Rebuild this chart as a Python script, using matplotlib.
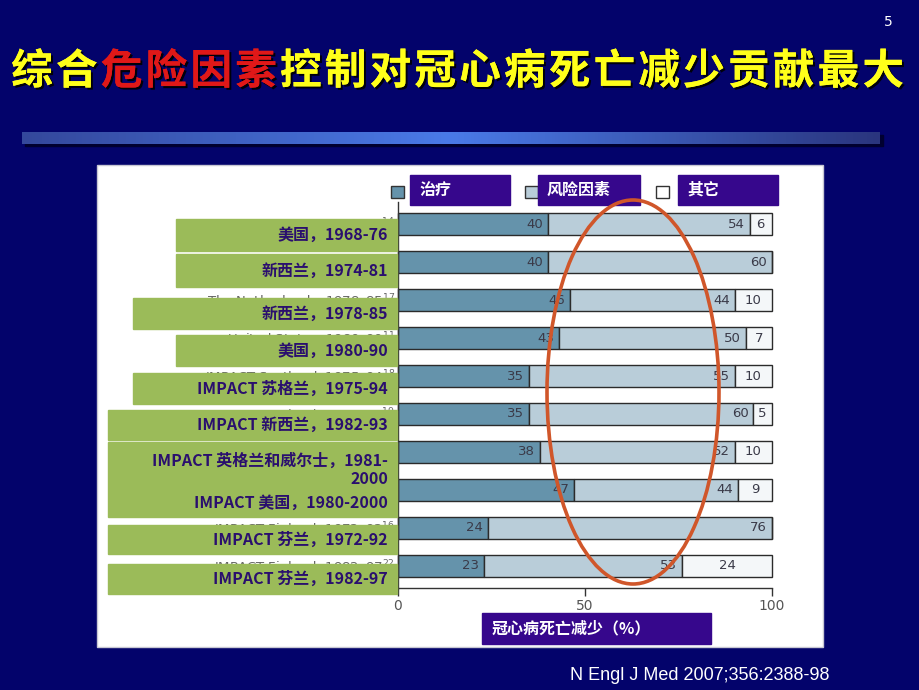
import numpy as np
import matplotlib
matplotlib.use('Agg')
import matplotlib.pyplot as plt
from matplotlib.patches import Rectangle, Ellipse
from matplotlib.colors import LinearSegmentedColormap
import matplotlib.patheffects as pe

plt.rcParams['font.family'] = ['Noto Sans CJK SC', 'DejaVu Sans']

# ---- data ----
title_parts = [('综合', '#ffff1a'), ('危险因素', '#e01818'),
               ('控制对冠心病死亡减少贡献最大', '#ffff1a')]
labels_cn = ['美国，1968-76', '新西兰，1974-81', '新西兰，1978-85', '美国，1980-90',
             'IMPACT 苏格兰，1975-94', 'IMPACT 新西兰，1982-93',
             'IMPACT 英格兰和威尔士，1981-\n2000', 'IMPACT 美国，1980-2000',
             'IMPACT 芬兰，1972-92', 'IMPACT 芬兰，1982-97']
# original English labels, mostly covered by the green boxes
labels_en = ['United States, 1968–76$^{14}$', '',
             'The Netherlands, 1978–85$^{17}$', 'United States, 1980–90$^{11}$',
             'IMPACT Scotland, 1975–94$^{18}$', 'IMPACT New Zealand, 1982–93$^{19}$',
             'IMPACT England and Wales, 1981–2000$^{20}$', '',
             'IMPACT Finland, 1972–92$^{16}$', 'IMPACT Finland, 1982–97$^{22}$']
treatment = [40, 40, 46, 43, 35, 35, 38, 47, 24, 23]
risk = [54, 60, 44, 50, 55, 60, 52, 44, 76, 53]
other = [6, 0, 10, 7, 10, 5, 10, 9, 0, 24]
xticks = [0, 50, 100]
legend_names = ['治疗', '风险因素', '其它']
xlabel = '冠心病死亡减少（%）'
source = 'N Engl J Med 2007;356:2388-98'

c_treat, c_risk, c_other = '#6593ab', '#b9cdd9', '#f4f7f9'
navy = '#03036b'
purple = '#36078c'
green = '#9bbb59'

fig = plt.figure(figsize=(9.2, 6.9), dpi=100)
fig.patch.set_facecolor(navy)

# background layer in pixel coordinates
bg = fig.add_axes([0, 0, 1, 1], zorder=0)
bg.set_facecolor(navy)
cmap = LinearSegmentedColormap.from_list('g', ['#34489c', '#4a7ae8', '#2a357e'])
bg.add_patch(Rectangle((25, 135), 858, 11, color='#000030', zorder=1))
bg.imshow(np.linspace(0, 1, 256)[None, :], cmap=cmap, aspect='auto',
          extent=[22, 880, 144, 132], zorder=2)
bg.add_patch(Rectangle((97, 165), 726, 482, facecolor='white',
                       edgecolor='#c8c8d4', lw=1, zorder=2))

# title, one character at a time
chars = [(ch, col) for part, col in title_parts for ch in part]
for i, (ch, col) in enumerate(chars):
    bg.text(32 + 44.8 * i, 72, ch, color=col, fontsize=30, fontweight='black',
            ha='center', va='center', zorder=3,
            path_effects=[pe.withSimplePatchShadow(offset=(1.5, -1.5),
                                                   shadow_rgbFace='black', alpha=0.9),
                          pe.Normal()])
bg.text(888, 22, '5', color='white', fontsize=10, ha='center', va='center',
        family='DejaVu Sans')
bg.text(830, 676, source, color='white', fontsize=13, ha='right', va='center',
        family='Liberation Sans')
bg.set_xlim(0, 920)
bg.set_ylim(690, 0)
bg.axis('off')

# bar chart
ax = fig.add_axes([398 / 920, 102 / 690, 374 / 920, 386 / 690], zorder=1)
ax.patch.set_alpha(0)
y = np.arange(len(treatment))
t = np.array(treatment)
r = np.array(risk)
o = np.array(other)
kw = dict(height=0.58, edgecolor='#2b2b2b', linewidth=1, clip_on=False)
ax.barh(y, t, color=c_treat, **kw)
ax.barh(y, r, left=t, color=c_risk, **kw)
ax.barh(y, o, left=t + r, color=c_other, **kw)
tk = dict(fontsize=9.5, color='#3a3a48', va='center', family='DejaVu Sans')
for i in range(len(y)):
    ax.text(t[i] - 1.3, y[i], str(t[i]), ha='right', **tk)
    ax.text(t[i] + r[i] - 1.3, y[i], str(r[i]), ha='right', **tk)
    if o[i] > 0:
        ax.text(t[i] + r[i] + o[i] / 2, y[i], str(o[i]), ha='center', **tk)
ax.set_xlim(0, 100)
ax.set_ylim(9.58, -0.58)
ax.set_yticks([])
ax.set_xticks(xticks)
ax.tick_params(axis='x', length=6, width=1, color='#333333', labelsize=10,
               labelcolor='#555555', pad=2)
for lbl in ax.get_xticklabels():
    lbl.set_fontfamily('DejaVu Sans')
for s in ['top', 'right']:
    ax.spines[s].set_visible(False)
for s in ['left', 'bottom']:
    ax.spines[s].set_color('#333333')
    ax.spines[s].set_linewidth(1)

# overlay: old labels, green boxes, legend, circle
ov = fig.add_axes([0, 0, 1, 1], zorder=2)
ov.patch.set_alpha(0)
ov.set_xlim(0, 920)
ov.set_ylim(690, 0)
ov.axis('off')

row_y = [224 + 38 * i for i in range(10)]
for i, txt in enumerate(labels_en):
    if txt:
        ov.text(395, row_y[i] + 1, txt, fontsize=9.5, color='#666666', ha='right',
                va='center', family='DejaVu Sans', zorder=1)

boxes = [(176, 219, 251), (176, 254, 287), (133, 298, 329), (176, 335, 366),
         (133, 373, 404), (108, 410, 440), (108, 442, 517), (108, 525, 554),
         (108, 564, 594)]
for x0, y0, y1 in boxes:
    ov.add_patch(Rectangle((x0, y0), 397 - x0, y1 - y0, color=green, zorder=2))
label_y = [235, 271, 314, 351, 389, 425, 470, 503, 540, 579]
for txt, ty in zip(labels_cn, label_y):
    ov.text(388, ty, txt, fontsize=11.5, fontweight='bold', color='#2a0f6e',
            ha='right', va='center', zorder=3, linespacing=1.2)

sq_x = [391, 525, 656]
box_x = [(410, 510), (538, 640), (678, 778)]
sq_c = [c_treat, c_risk, 'white']
for sx, (bx0, bx1), c, name in zip(sq_x, box_x, sq_c, legend_names):
    ov.add_patch(Rectangle((sx, 186), 13, 12, facecolor=c, edgecolor='#333333',
                           lw=1, zorder=2))
    ov.add_patch(Rectangle((bx0, 175), bx1 - bx0, 30, color=purple, zorder=2))
    ov.text(bx0 + 9, 190, name, color='white', fontsize=11.5, fontweight='bold',
            ha='left', va='center', zorder=3)

ov.add_patch(Rectangle((482, 613), 229, 31, color=purple, zorder=2))
ov.text(492, 628.5, xlabel, color='white', fontsize=11.5, fontweight='bold',
        ha='left', va='center', zorder=3)

ov.add_patch(Ellipse((633, 392), 172, 384, fill=False, edgecolor='#d0562a',
                     lw=2.6, zorder=4))

fig.savefig('out.png', dpi=100, facecolor=navy)
